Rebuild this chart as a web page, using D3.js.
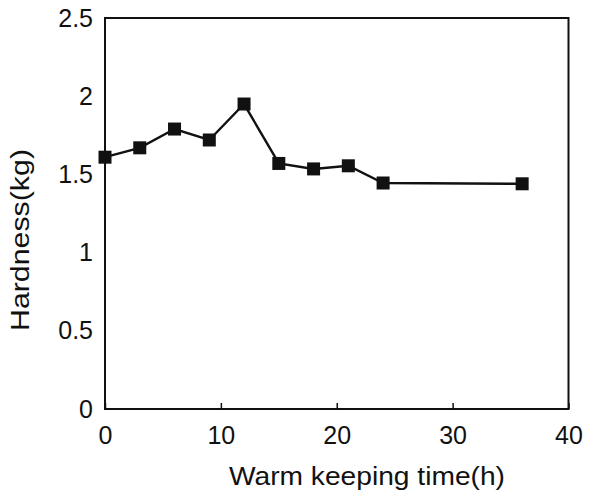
<!DOCTYPE html>
<html>
<head>
<meta charset="utf-8">
<script src="https://cdn.jsdelivr.net/npm/d3@7"></script>
<style>
  body { margin: 0; background: #fff; }
  svg text { font-family: "Liberation Sans", Arial, sans-serif; fill: #111; }
</style>
</head>
<body>
<div id="chart"></div>
<script>
var width = 589;
var height = 492;
var margin = {top: 18, right: 20, bottom: 83, left: 105};

// data
var hours = [0, 3, 6, 9, 12, 15, 18, 21, 24, 36];
var hardness = [1.61, 1.67, 1.79, 1.72, 1.95, 1.57, 1.535, 1.555, 1.445, 1.44];
var xTicks = [0, 10, 20, 30, 40];
var yTicks = [0, 0.5, 1, 1.5, 2, 2.5];

var points = hours.map((h, i) => ({x: h, y: hardness[i]}));

var svg = d3.select("#chart")
    .append("svg")
    .attr("width", width)
    .attr("height", height);

var x = d3.scaleLinear().domain([0, 40]).range([margin.left, width - margin.right - 0.5]);
var y = d3.scaleLinear().domain([0, 2.5]).range([height - margin.bottom, margin.top]);

// frame
svg.append("rect")
    .attr("x", x(0))
    .attr("y", y(2.5))
    .attr("width", x(40) - x(0))
    .attr("height", y(0) - y(2.5))
    .attr("fill", "none")
    .attr("stroke", "#111")
    .attr("stroke-width", 2);

// x axis, small ticks pointing inside
var xAxis = svg.append("g")
    .attr("transform", "translate(0," + y(0) + ")")
    .call(d3.axisBottom(x).tickValues(xTicks).tickSizeInner(-6).tickSizeOuter(0).tickPadding(17));
xAxis.select(".domain").remove();
xAxis.selectAll("line").attr("stroke", "#111").attr("stroke-width", 1.5);
xAxis.selectAll("text")
    .style("font-size", "25px")
    .attr("fill", "#111");

var yAxis = svg.append("g")
    .attr("transform", "translate(" + x(0) + ",0)")
    .call(d3.axisLeft(y).tickValues(yTicks).tickSize(0).tickPadding(12).tickFormat(d3.format("")));
yAxis.select(".domain").remove();
yAxis.selectAll("text")
    .style("font-size", "25px")
    .attr("fill", "#111");

// series
var line = d3.line()
    .x(d => x(d.x))
    .y(d => y(d.y));

svg.append("path")
    .datum(points)
    .attr("d", line)
    .attr("fill", "none")
    .attr("stroke", "#111")
    .attr("stroke-width", 2.4);

var s = 13;
svg.selectAll(".pt")
    .data(points)
    .enter()
    .append("rect")
    .attr("class", "pt")
    .attr("x", d => x(d.x) - s / 2)
    .attr("y", d => y(d.y) - s / 2)
    .attr("width", s)
    .attr("height", s)
    .attr("fill", "#111");

// titles
svg.append("text")
    .attr("x", 367)
    .attr("y", 485)
    .attr("text-anchor", "middle")
    .attr("textLength", 276)
    .attr("lengthAdjust", "spacingAndGlyphs")
    .style("font-size", "25px")
    .text("Warm keeping time(h)");

svg.append("text")
    .attr("transform", "translate(29,240) rotate(-90)")
    .attr("text-anchor", "middle")
    .attr("textLength", 182)
    .attr("lengthAdjust", "spacingAndGlyphs")
    .style("font-size", "25px")
    .text("Hardness(kg)");
</script>
</body>
</html>
